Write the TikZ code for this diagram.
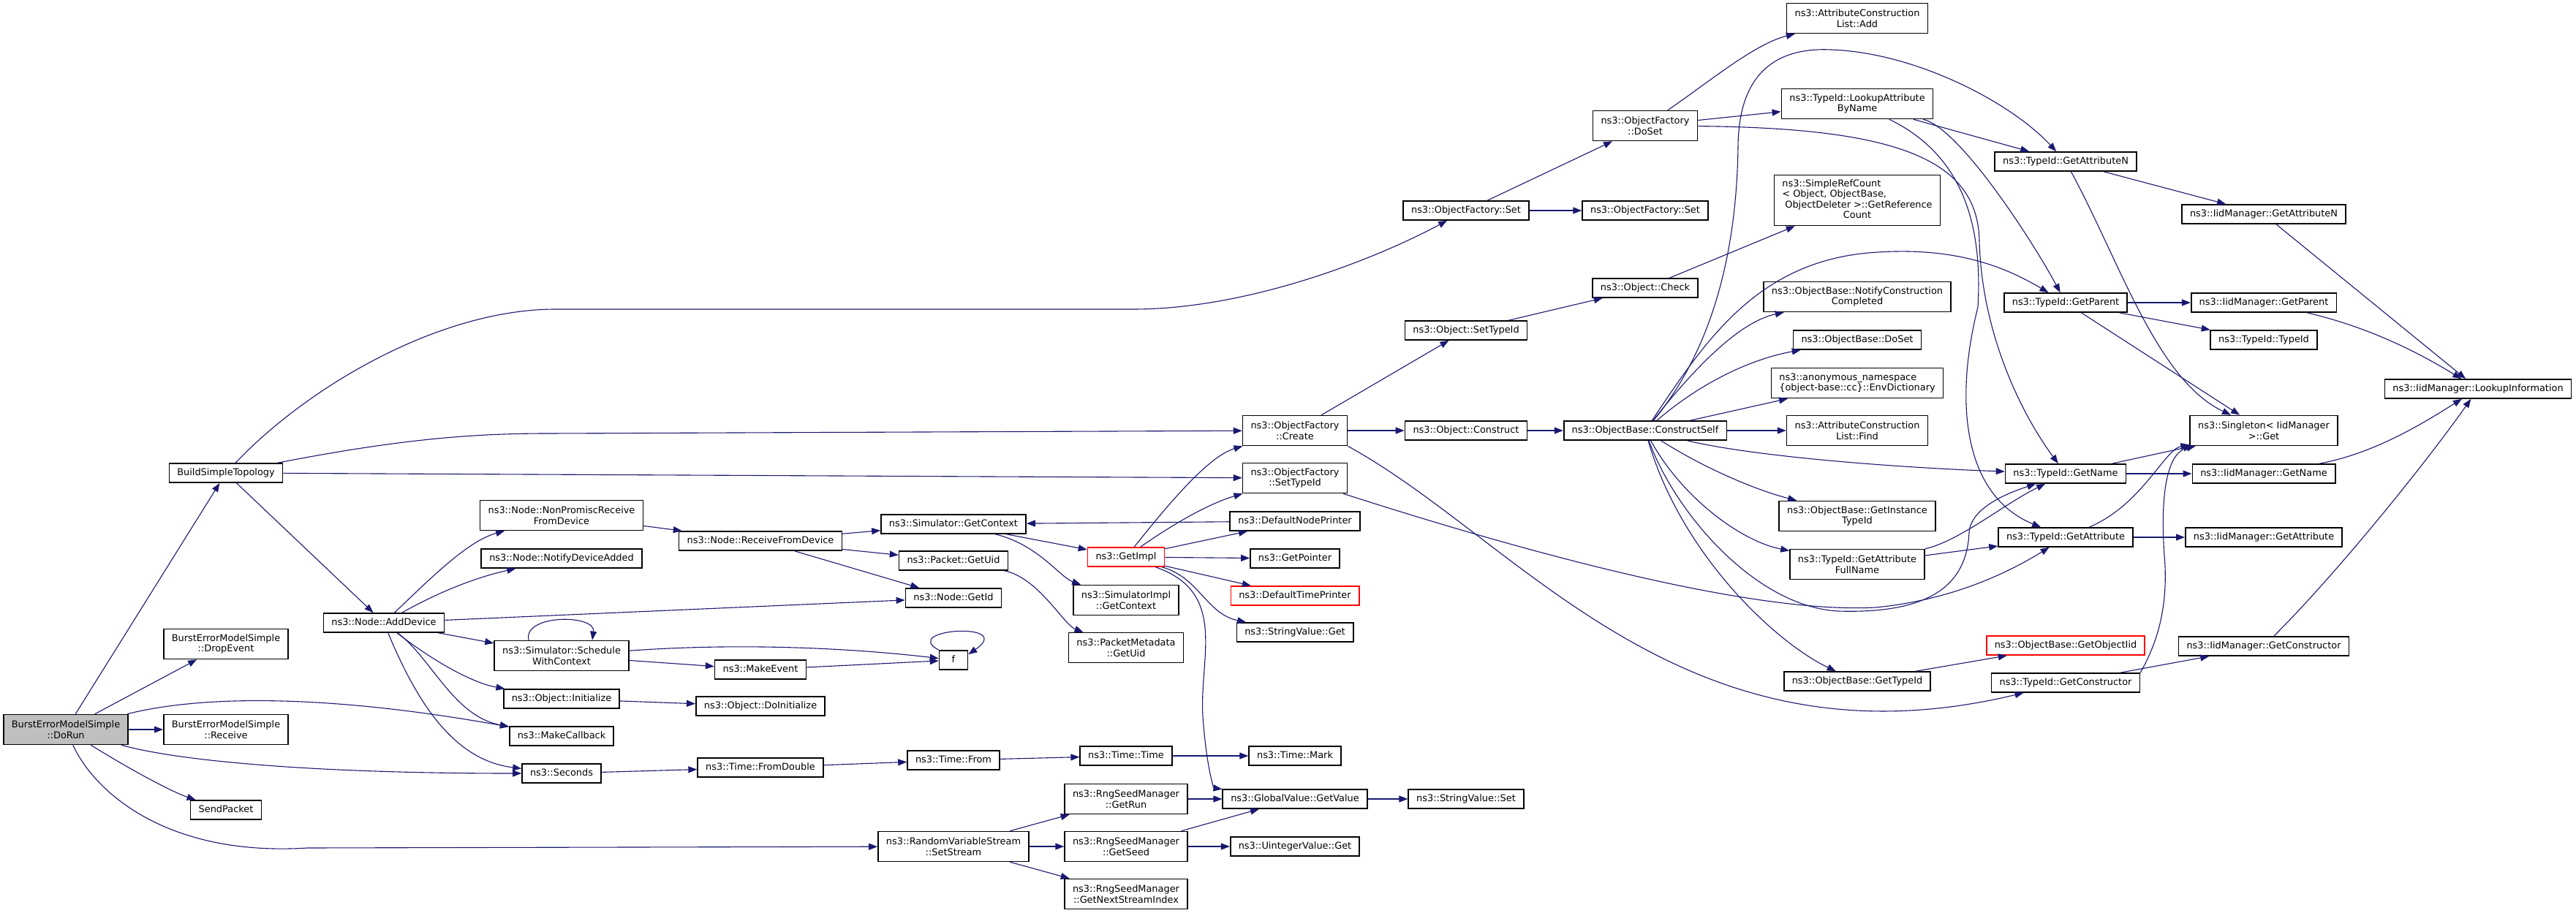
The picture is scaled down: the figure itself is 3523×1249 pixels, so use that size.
\documentclass[tikz,border=0pt]{standalone}
\usepackage{fontspec}
\setmainfont{DejaVu Sans}
\usepackage{xcolor}
\usetikzlibrary{arrows.meta}
\definecolor{edgeblue}{HTML}{191970}
\definecolor{rootgray}{HTML}{BFBFBF}
\definecolor{hotred}{HTML}{FF0000}

\begin{document}
\begin{tikzpicture}[x=1pt,y=-1pt,
	fn/.style={draw=black,line width=1.6pt,fill=white,inner xsep=11pt,inner ysep=2pt,minimum height=26pt,align=center,text height=9.5pt,text depth=3pt,font=\fontsize{12.9}{14.5}\selectfont},
	two/.style={minimum height=41pt,text height=,text depth=},
	fnroot/.style={fn,fill=rootgray,draw=black},
	fnred/.style={fn,draw=hotred},
	calls/.style={draw=edgeblue,line width=1.1pt,-{Triangle[length=12pt,width=9pt]}}]
	\useasboundingbox[fill=white] (0,0) rectangle (3523,1249);

	% callers on the left
	\node[fnroot,two] (dorun) at (90,998) {BurstErrorModelSimple\\::DoRun};
	\node[fn] (bst) at (309,647) {BuildSimpleTopology};
	\node[fn,two] (drop) at (309,881) {BurstErrorModelSimple\\::DropEvent};
	\node[fn,two] (recv) at (309,998) {BurstErrorModelSimple\\::Receive};
	\node[fn] (send) at (309,1108) {SendPacket};
	\node[fn] (adddev) at (525,852) {ns3::Node::AddDevice};
	\node[fn,two] (nonprom) at (768,705) {ns3::Node::NonPromiscReceive\\FromDevice};
	\node[fn] (notify) at (768,764) {ns3::Node::NotifyDeviceAdded};
	\node[fn,two] (sched) at (768,897) {ns3::Simulator::Schedule\\WithContext};
	\node[fn] (init) at (768,956) {ns3::Object::Initialize};
	\node[fn] (mkcb) at (768,1007) {ns3::MakeCallback};
	\node[fn] (secs) at (768,1058) {ns3::Seconds};
	\node[fn] (rfd) at (1040,740) {ns3::Node::ReceiveFromDevice};
	\node[fn] (mkev) at (1040,916) {ns3::MakeEvent};
	\node[fn] (doinit) at (1040,966) {ns3::Object::DoInitialize};
	\node[fn] (fromdbl) at (1040,1050) {ns3::Time::FromDouble};
	\node[fn] (simctx) at (1304,717) {ns3::Simulator::GetContext};
	\node[fn] (pktuid) at (1304,767) {ns3::Packet::GetUid};
	\node[fn] (getid) at (1304,818) {ns3::Node::GetId};
	\node[fn,minimum width=39pt,inner xsep=2pt] (f) at (1304,903) {f};
	\node[fn] (tfrom) at (1304,1040) {ns3::Time::From};
	\node[fn,two] (setstream) at (1304,1158) {ns3::RandomVariableStream\\::SetStream};
	\node[fnred] (getimpl) at (1540,762) {ns3::GetImpl};
	\node[fn,two] (implctx) at (1540,821) {ns3::SimulatorImpl\\::GetContext};
	\node[fn,two] (metauid) at (1540,886) {ns3::PacketMetadata\\::GetUid};
	\node[fn] (ttime) at (1540,1034) {ns3::Time::Time};
	\node[fn,two] (getrun) at (1540,1093) {ns3::RngSeedManager\\::GetRun};
	\node[fn,two] (getseed) at (1540,1158) {ns3::RngSeedManager\\::GetSeed};
	\node[fn,two] (nextidx) at (1540,1223) {ns3::RngSeedManager\\::GetNextStreamIndex};
	\node[fn,two] (create) at (1771,589) {ns3::ObjectFactory\\::Create};
	\node[fn,two] (ofsettid) at (1771,654) {ns3::ObjectFactory\\::SetTypeId};
	\node[fn] (nodeprn) at (1771,713) {ns3::DefaultNodePrinter};
	\node[fn] (getptr) at (1771,764) {ns3::GetPointer};
	\node[fnred] (timeprn) at (1771,815) {ns3::DefaultTimePrinter};
	\node[fn] (strget) at (1771,865) {ns3::StringValue::Get};
	\node[fn] (tmark) at (1771,1034) {ns3::Time::Mark};
	\node[fn] (getval) at (1771,1093) {ns3::GlobalValue::GetValue};
	\node[fn] (uintget) at (1771,1158) {ns3::UintegerValue::Get};
	\node[fn] (ofset) at (2005,288) {ns3::ObjectFactory::Set};
	\node[fn] (osettid) at (2005,452) {ns3::Object::SetTypeId};
	\node[fn] (construct) at (2005,589) {ns3::Object::Construct};
	\node[fn] (strset) at (2005,1093) {ns3::StringValue::Set};
	\node[fn,two] (dosetf) at (2250,172) {ns3::ObjectFactory\\::DoSet};
	\node[fn] (ofset2) at (2250,288) {ns3::ObjectFactory::Set};
	\node[fn] (check) at (2250,394) {ns3::Object::Check};
	\node[fn] (cself) at (2250,589) {ns3::ObjectBase::ConstructSelf};
	\node[fn,two] (acladd) at (2540,25) {ns3::AttributeConstruction\\List::Add};
	\node[fn,two] (lookupattr) at (2540,142) {ns3::TypeId::LookupAttribute\\ByName};
	\node[fn,text height=,text depth=,minimum height=69pt] (refcount) at (2540,274) {\begin{tabular}{@{}l@{}}ns3::SimpleRefCount\\< Object, ObjectBase,\\\hspace{4pt}ObjectDeleter >::GetReference\\\multicolumn{1}{@{}c@{}}{Count}\end{tabular}};
	\node[fn,two] (notifycc) at (2540,406) {ns3::ObjectBase::NotifyConstruction\\Completed};
	\node[fn] (obdoset) at (2540,465) {ns3::ObjectBase::DoSet};
	\node[fn,two,align=left] (envdict) at (2540,524) {ns3::anonymous\_namespace\\\{object-base::cc\}::EnvDictionary};
	\node[fn,two] (aclfind) at (2540,589) {ns3::AttributeConstruction\\List::Find};
	\node[fn,two] (insttid) at (2540,706) {ns3::ObjectBase::GetInstance\\TypeId};
	\node[fn,two] (fullname) at (2540,772) {ns3::TypeId::GetAttribute\\FullName};
	\node[fn] (obgettid) at (2540,932) {ns3::ObjectBase::GetTypeId};
	\node[fn] (attrn) at (2825,221) {ns3::TypeId::GetAttributeN};
	\node[fn] (parent) at (2825,414) {ns3::TypeId::GetParent};
	\node[fn] (tname) at (2825,648) {ns3::TypeId::GetName};
	\node[fn] (tattr) at (2825,735) {ns3::TypeId::GetAttribute};
	\node[fnred] (objiid) at (2825,883) {ns3::ObjectBase::GetObjectIid};
	\node[fn] (ctor) at (2825,934) {ns3::TypeId::GetConstructor};
	\node[fn] (iattrn) at (3096,293) {ns3::IidManager::GetAttributeN};
	\node[fn] (iparent) at (3096,414) {ns3::IidManager::GetParent};
	\node[fn] (tidtid) at (3096,465) {ns3::TypeId::TypeId};
	\node[fn,two] (single) at (3096,589) {ns3::Singleton< IidManager\\>::Get};
	\node[fn] (iname) at (3096,648) {ns3::IidManager::GetName};
	\node[fn] (iattr) at (3096,735) {ns3::IidManager::GetAttribute};
	\node[fn] (ictor) at (3096,884) {ns3::IidManager::GetConstructor};
	\node[fn] (lookup) at (3389,532) {ns3::IidManager::LookupInformation};

	% calls
	\draw[calls] (dorun) -- (bst);
	\draw[calls] (dorun) -- (drop);
	\draw[calls] (dorun) .. controls (260,955) and (420,945) .. (mkcb);
	\draw[calls] (dorun) -- (recv);
	\draw[calls] (dorun) .. controls (240,1040) and (420,1058) .. (secs);
	\draw[calls] (dorun) .. controls (190,1060) and (240,1085) .. (send);
	\draw[calls] (dorun) .. controls (130,1085) and (230,1172) .. (420,1160) -- (setstream);
	\draw[calls] (bst) .. controls (420,530) and (600,423) .. (760,423) -- (1550,423) .. controls (1700,423) and (1870,360) .. (ofset);
	\draw[calls] (bst) .. controls (550,600) and (650,593) .. (750,593) -- (create);
	\draw[calls] (bst) -- (ofsettid);
	\draw[calls] (bst) -- (adddev);
	\draw[calls] (adddev) .. controls (590,790) and (640,740) .. (nonprom);
	\draw[calls] (adddev) .. controls (600,810) and (650,790) .. (notify);
	\draw[calls] (adddev) -- (getid);
	\draw[calls] (adddev) -- (sched);
	\draw[calls] (adddev) .. controls (600,910) and (650,935) .. (init);
	\draw[calls] (adddev) .. controls (590,900) and (620,980) .. (mkcb);
	\draw[calls] (adddev) .. controls (570,960) and (620,1040) .. (secs);
	\draw[calls] (nonprom) -- (rfd);
	\draw[calls] (rfd) -- (simctx);
	\draw[calls] (rfd) -- (pktuid);
	\draw[calls] (rfd) -- (getid);
	\draw[calls] (simctx) -- (getimpl);
	\draw[calls] (simctx) .. controls (1420,745) and (1450,790) .. (implctx);
	\draw[calls] (pktuid) .. controls (1420,790) and (1455,855) .. (metauid);
	\draw[calls] (nodeprn) -- (simctx);
	\draw[calls] (getimpl) .. controls (1590,700) and (1650,625) .. (create);
	\draw[calls] (getimpl) .. controls (1600,720) and (1650,690) .. (ofsettid);
	\draw[calls] (getimpl) -- (nodeprn);
	\draw[calls] (getimpl) -- (getptr);
	\draw[calls] (getimpl) -- (timeprn);
	\draw[calls] (getimpl) .. controls (1640,790) and (1650,840) .. (strget);
	\draw[calls] (getimpl) .. controls (1680,810) and (1640,900) .. (1645,980) .. controls (1650,1050) and (1660,1078) .. (getval);
	\draw[calls] ([xshift=-45pt]sched.north) .. controls (715,840) and (815,840) .. ([xshift=42pt]sched.north);
	\draw[calls] (sched) .. controls (1000,880) and (1150,885) .. (f);
	\draw[calls] (sched) -- (mkev);
	\draw[calls] (mkev) -- (f);
	\draw[calls] (f.north west) .. controls (1230,860) and (1390,850) .. ([yshift=-6pt]f.north east);
	\draw[calls] (init) -- (doinit);
	\draw[calls] (secs) -- (fromdbl);
	\draw[calls] (fromdbl) -- (tfrom);
	\draw[calls] (tfrom) -- (ttime);
	\draw[calls] (ttime) -- (tmark);
	\draw[calls] (setstream) -- (getrun);
	\draw[calls] (setstream) -- (getseed);
	\draw[calls] (setstream) -- (nextidx);
	\draw[calls] (getrun) -- (getval);
	\draw[calls] (getseed) -- (getval);
	\draw[calls] (getseed) -- (uintget);
	\draw[calls] (getval) -- (strset);
	\draw[calls] (ofset) -- (dosetf);
	\draw[calls] (ofset) -- (ofset2);
	\draw[calls] (dosetf) .. controls (2340,110) and (2400,60) .. (acladd);
	\draw[calls] (dosetf) -- (lookupattr);
	\draw[calls] (dosetf) .. controls (2600,175) and (2705,220) .. (2707,330) .. controls (2710,450) and (2760,560) .. (tname);
	\draw[calls] (lookupattr) -- (attrn);
	\draw[calls] (lookupattr) .. controls (2680,175) and (2780,330) .. (parent);
	\draw[calls] (lookupattr) .. controls (2680,210) and (2712,300) .. (2705,420) .. controls (2670,560) and (2690,680) .. (tattr);
	\draw[calls] (create) -- (osettid);
	\draw[calls] (create) -- (construct);
	\draw[calls] (create.south east) .. controls (2080,740) and (2300,1060) .. (ctor);
	\draw[calls] (ofsettid) .. controls (2100,760) and (2400,840) .. (2565,831) .. controls (2680,820) and (2760,775) .. (tattr);
	\draw[calls] (osettid) -- (check);
	\draw[calls] (check) -- (refcount);
	\draw[calls] (construct) -- (cself);
	\draw[calls] (cself) -- (aclfind);
	\draw[calls] (cself) -- (envdict);
	\draw[calls] (cself) .. controls (2330,520) and (2400,490) .. (obdoset);
	\draw[calls] (cself) .. controls (2320,500) and (2380,440) .. (notifycc);
	\draw[calls] (cself) .. controls (2330,470) and (2400,360) .. (2555,346) .. controls (2680,335) and (2750,370) .. (parent);
	\draw[calls] (cself) .. controls (2340,480) and (2375,350) .. (2377,200) .. controls (2378,90) and (2440,65) .. (2504,68) .. controls (2620,72) and (2750,140) .. (attrn);
	\draw[calls] (cself) .. controls (2400,625) and (2600,640) .. (tname);
	\draw[calls] (cself) .. controls (2330,640) and (2400,670) .. (insttid);
	\draw[calls] (cself) .. controls (2300,680) and (2380,740) .. (fullname);
	\draw[calls] (cself) .. controls (2290,700) and (2400,830) .. (2514,836) .. controls (2640,840) and (2690,800) .. (2693,728) .. controls (2696,690) and (2760,670) .. (tname);
	\draw[calls] (cself) .. controls (2300,760) and (2430,880) .. (obgettid);
	\draw[calls] (obgettid) -- (objiid);
	\draw[calls] (fullname) .. controls (2680,740) and (2740,690) .. (tname);
	\draw[calls] (fullname) -- (tattr);
	\draw[calls] (attrn) -- (iattrn);
	\draw[calls] (attrn) .. controls (2900,360) and (2950,520) .. (single);
	\draw[calls] (parent) -- (iparent);
	\draw[calls] (parent) -- (tidtid);
	\draw[calls] (parent) -- (single);
	\draw[calls] (tname) -- (single);
	\draw[calls] (tname) -- (iname);
	\draw[calls] (tattr) .. controls (2930,690) and (2960,615) .. (single);
	\draw[calls] (tattr) -- (iattr);
	\draw[calls] (ctor.north east) .. controls (2950,880) and (2966,830) .. (2960,760) .. controls (2955,690) and (2960,620) .. (single);
	\draw[calls] (ctor) -- (ictor);
	\draw[calls] (iattrn) -- (lookup);
	\draw[calls] (iparent) .. controls (3250,450) and (3320,490) .. (lookup);
	\draw[calls] (iname) .. controls (3250,620) and (3320,575) .. (lookup);
	\draw[calls] (ictor) .. controls (3200,780) and (3320,630) .. (lookup);
\end{tikzpicture}
\end{document}
